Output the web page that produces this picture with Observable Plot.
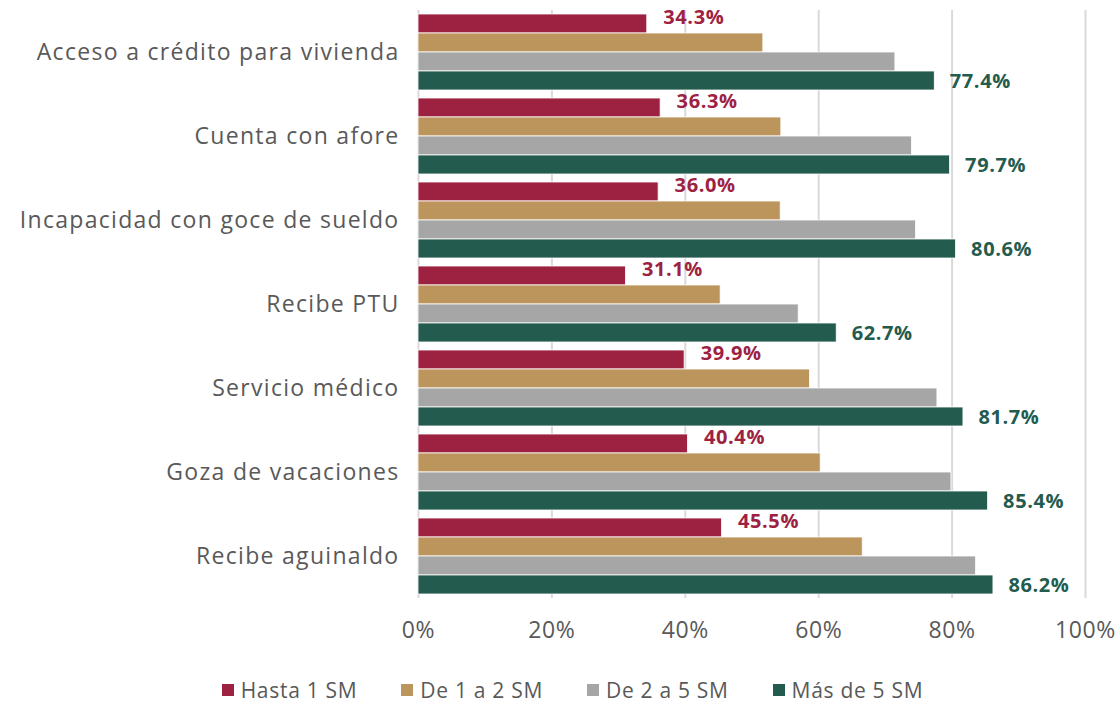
<!DOCTYPE html>
<html>
<head>
<meta charset="utf-8">
<script src="https://cdn.jsdelivr.net/npm/d3@7"></script>
<script src="https://cdn.jsdelivr.net/npm/@observablehq/plot@0.6"></script>
<style>
  html, body { margin: 0; padding: 0; background: #fff; }
  body { width: 1119px; height: 702px; overflow: hidden; font-family: "Open Sans", sans-serif; }
  #chart { height: 670px; }
  #legend { display: flex; justify-content: center; align-items: center; gap: 44px; margin-top: 9px; margin-left: 26px; height: 22px; line-height: 22px; font-size: 21px; letter-spacing: 0.7px; color: #595959; }
  #legend .item { display: flex; align-items: center; gap: 7px; }
  #legend .sw { width: 12px; height: 12px; display: inline-block; }
</style>
</head>
<body>
<div id="chart"></div>
<div id="legend"></div>
<script>
const categories = ["Acceso a crédito para vivienda", "Cuenta con afore", "Incapacidad con goce de sueldo", "Recibe PTU", "Servicio médico", "Goza de vacaciones", "Recibe aguinaldo"];
const series = ["Hasta 1 SM", "De 1 a 2 SM", "De 2 a 5 SM", "Más de 5 SM"];
const hasta1 = [34.3, 36.3, 36.0, 31.1, 39.9, 40.4, 45.5];
const de1a2 = [51.7, 54.4, 54.3, 45.3, 58.7, 60.3, 66.6];
const de2a5 = [71.5, 74.0, 74.6, 57.0, 77.8, 79.9, 83.6];
const mas5 = [77.4, 79.7, 80.6, 62.7, 81.7, 85.4, 86.2];
const colors = ["#9d2242", "#bc955c", "#a6a6a6", "#235b4e"];
const xTicks = [0, 20, 40, 60, 80, 100];

const seriesValues = [hasta1, de1a2, de2a5, mas5];
const data = [];
categories.forEach((c, i) => {
  series.forEach((s, j) => data.push({cat: c, series: s, value: seriesValues[j][i]}));
});
const font = "'Open Sans', sans-serif";

const chart = Plot.plot({
  width: 1119,
  height: 670,
  marginLeft: 418,
  marginRight: 34,
  marginTop: 10,
  marginBottom: 72,
  style: {fontFamily: font, color: "#595959", background: "#fff", letterSpacing: "0.6px", display: "block"},
  x: {domain: [0, 100], label: null},
  fy: {domain: categories, padding: 0, label: null},
  y: {domain: series, axis: null, paddingInner: 0, paddingOuter: 0.154},
  color: {domain: series, range: colors},
  marks: [
    Plot.gridX(xTicks, {stroke: "#d9d9d9", strokeOpacity: 1, strokeWidth: 2}),
    Plot.barX(data, {fy: "cat", y: "series", x: "value", fill: "series", stroke: "#ffffff", strokeWidth: 0.8}),
    Plot.text(data.filter(d => d.series === series[0]), {fy: "cat", y: "series", x: "value", text: d => d.value.toFixed(1) + "%", textAnchor: "start", dx: 16, dy: -6, fill: colors[0], fontWeight: "bold", fontSize: 20}),
    Plot.text(data.filter(d => d.series === series[3]), {fy: "cat", y: "series", x: "value", text: d => d.value.toFixed(1) + "%", textAnchor: "start", dx: 15, dy: 1, fill: colors[3], fontWeight: "bold", fontSize: 20}),
    Plot.axisX({ticks: xTicks, tickFormat: d => d + "%", tickSize: 0, tickPadding: 23, fontSize: 23, label: null, fill: "#595959"}),
    Plot.axisFy({anchor: "left", tickSize: 0, tickPadding: 19, fontSize: 23, label: null, fill: "#595959"})
  ]
});
d3.select(chart).selectAll('g[aria-label="fy-axis tick label"]').style("letter-spacing", "1.3px");
document.getElementById("chart").appendChild(chart);

const legend = document.getElementById("legend");
series.forEach((s, i) => {
  const item = document.createElement("div");
  item.className = "item";
  const sw = document.createElement("span");
  sw.className = "sw";
  sw.style.background = colors[i];
  const t = document.createElement("span");
  t.textContent = s;
  item.appendChild(sw);
  item.appendChild(t);
  legend.appendChild(item);
});
</script>
</body>
</html>
